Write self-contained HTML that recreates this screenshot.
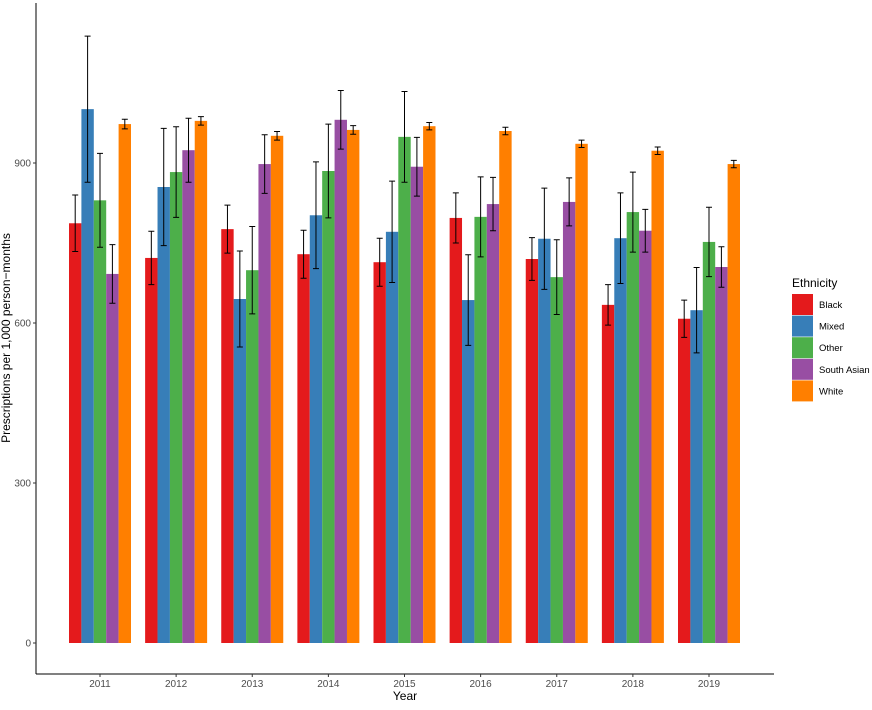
<!DOCTYPE html>
<html><head><meta charset="utf-8"><style>
body{margin:0;background:#fff;font-family:"Liberation Sans",Arial,sans-serif}
svg text{font-family:"Liberation Sans",Arial,sans-serif}
</style></head><body>
<svg id="chart" width="872" height="705"></svg>
<script>
const years=["2011","2012","2013","2014","2015","2016","2017","2018","2019"];
const groups=["Black","Mixed","Other","South Asian","White"];
const colors=["#E41A1C","#377EB8","#4DAF4A","#984EA3","#FF7F00"];
const black=[787,722,776,729,714,797,720,634,608];
const mixed=[1001,855,645,802,771,643,758,759,624];
const other=[830,883,699,885,949,799,686,808,752];
const southAsian=[692,924,898,981,893,823,827,773,705];
const white=[973,979,951,962,969,960,936,923,898];
const errBlack=[53,50,45,45,45,47,40,38,35];
const errMixed=[137,110,90,100,95,85,95,85,80];
const errOther=[88,85,82,88,85,75,70,75,65];
const errSouthAsian=[55,60,55,55,55,50,45,40,38];
const errWhite=[9,8,8,8,7,7,7,7,7];
const yTicks=[0,300,600,900];
const series=[black,mixed,other,southAsian,white];
const errs=[errBlack,errMixed,errOther,errSouthAsian,errWhite];
const NS="http://www.w3.org/2000/svg";
const svg=document.getElementById('chart');
const L=36,R=774,T=3,B=674;
const y=v=>643-v*160/300;
const x=i=>100+i*76.125;
const bw=12.4;
function el(t,a,p){const e=document.createElementNS(NS,t);for(const k in a)e.setAttribute(k,a[k]);(p||svg).appendChild(e);return e;}
let ax=el('line',{x1:L,y1:T,x2:L,y2:B,stroke:'#000','stroke-width':1});


let bx=el('line',{x1:L,y1:B,x2:R,y2:B,stroke:'#000','stroke-width':1});


yTicks.forEach(v=>{
 let tk=el('line',{x1:L-3,x2:L,y1:y(v),y2:y(v),stroke:'#333'});
 
 
 let t=el('text',{x:L-5,y:y(v)+3.5,'text-anchor':'end','font-size':10,fill:'#4d4d4d'});
 t.textContent=v;
 
 
});
years.forEach((yr,i)=>{
 let tk=el('line',{x1:x(i),x2:x(i),y1:B,y2:B+3,stroke:'#333'});
 
 
 let t=el('text',{x:x(i),y:B+13,'text-anchor':'middle','font-size':10,fill:'#4d4d4d'});
 t.textContent=yr;
 
 
 series.forEach((s,j)=>{
  const cx=x(i)+(j-2)*bw;
  let r=el('rect',{x:cx-bw/2,y:y(s[i]),width:bw,height:y(0)-y(s[i]),fill:colors[j]});
  
  
  const hi=y(s[i]+errs[j][i]),lo=y(s[i]-errs[j][i]);
  let g=el('path',{d:`M${cx-3},${hi}H${cx+3}M${cx},${hi}V${lo}M${cx-3},${lo}H${cx+3}`,stroke:'#000','stroke-width':1,fill:'none'});
  
  
 });
});
let xt=el('text',{x:405,y:700,'text-anchor':'middle','font-size':12});
xt.textContent='Year';


let yt=el('text',{x:0,y:0,'text-anchor':'middle','font-size':12,transform:'translate(10,338) rotate(-90)'});
yt.textContent='Prescriptions per 1,000 person\u2212months';


let lt=el('text',{x:792,y:287,'font-size':12});
lt.textContent='Ethnicity';


groups.forEach((gname,j)=>{
 const ty=294+j*21.6;
 let k=el('rect',{x:792,y:ty,width:21,height:21,fill:colors[j]});
 
 
 let t=el('text',{x:819,y:ty+14,'font-size':9.5});
 t.textContent=gname;
 
 
});
</script>
</body></html>
